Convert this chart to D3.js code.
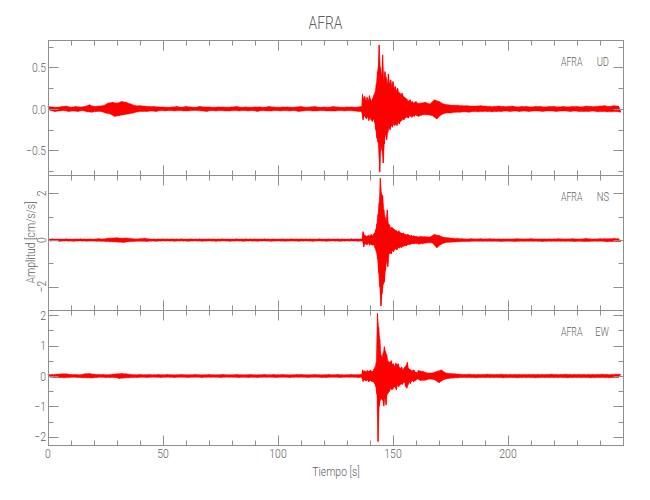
<!DOCTYPE html>
<html><head><meta charset="utf-8">
<script src="https://cdn.jsdelivr.net/npm/d3@7"></script>
<style>
body{margin:0;background:#fff;}
text{font-family:Roboto,"Liberation Sans",sans-serif;font-weight:300;fill:#5e5e5e;}
</style></head>
<body><svg id="c" width="650" height="500"></svg>
<script>
// ---- data ----
// coarse trace: one peak sample per second, t = 0..249 s
const tStep = 1;
// detailed main-event window: one peak sample per 0.25 s, t = 136..160.75 s
const eventStart = 136, eventStep = 0.25, eventEnd = 161;
const station = "AFRA";
const components = ["UD", "NS", "EW"];
const udValues = [
0.03,-0.02,0.025,-0.03,0.02,-0.025,0.03,-0.02,0.035,-0.03,
0.02,-0.025,0.03,-0.03,0.025,-0.02,0.03,-0.035,0.05,-0.04,
0.03,-0.03,0.035,-0.03,0.04,-0.05,0.07,-0.06,0.08,-0.09,
0.07,-0.08,0.09,-0.07,0.08,-0.06,0.06,-0.05,0.04,-0.035,
0.04,-0.03,0.035,-0.03,0.03,-0.025,0.03,-0.03,0.025,-0.02,
0.025,-0.025,0.02,-0.02,0.025,-0.025,0.03,-0.02,0.02,-0.025,
0.03,-0.025,0.025,-0.02,0.02,-0.02,0.03,-0.025,0.025,-0.03,
0.025,-0.02,0.02,-0.025,0.025,-0.02,0.025,-0.025,0.02,-0.025,
0.025,-0.02,0.03,-0.025,0.02,-0.02,0.025,-0.025,0.02,-0.02,
0.025,-0.03,0.025,-0.02,0.02,-0.025,0.03,-0.025,0.025,-0.02,
0.02,-0.025,0.025,-0.02,0.025,-0.025,0.02,-0.02,0.025,-0.03,
0.03,-0.025,0.02,-0.02,0.025,-0.025,0.03,-0.025,0.02,-0.02,
0.025,-0.025,0.02,-0.025,0.03,-0.025,0.025,-0.02,0.02,-0.025,
0.025,-0.02,0.025,-0.025,0.02,-0.03,0.03,0.18,-0.12,0.14,
-0.13,0.15,-0.3,0.4,0.77,-0.75,0.65,-0.65,0.42,-0.4,
0.28,-0.25,0.22,-0.2,0.18,-0.15,0.13,-0.12,0.1,-0.1,
0.08,-0.09,0.07,-0.07,0.08,-0.07,0.06,-0.08,0.11,-0.12,
0.09,-0.07,0.06,-0.05,0.05,-0.05,0.045,-0.04,0.045,-0.04,
0.04,-0.035,0.04,-0.04,0.035,-0.03,0.035,-0.035,0.04,-0.03,
0.035,-0.03,0.03,-0.035,0.03,-0.03,0.035,-0.03,0.03,-0.025,
0.03,-0.03,0.035,-0.025,0.025,-0.03,0.03,-0.025,0.03,-0.03,
0.025,-0.025,0.03,-0.025,0.03,-0.03,0.025,-0.025,0.03,-0.025,
0.03,-0.03,0.025,-0.025,0.03,-0.025,0.025,-0.03,0.03,-0.025,
0.03,-0.03,0.025,-0.03,0.035,-0.03,0.03,-0.025,0.03,-0.035,
0.035,-0.03,0.04,-0.035,0.03,-0.035,0.04,-0.03,0.035,-0.04];
const nsValues = [
0.04,-0.04,0.05,-0.03,0.04,-0.05,0.04,-0.04,0.05,-0.04,
0.04,-0.05,0.04,-0.04,0.05,-0.04,0.04,-0.05,0.05,-0.04,
0.04,-0.05,0.06,-0.05,0.05,-0.06,0.08,-0.07,0.09,-0.08,
0.1,-0.09,0.08,-0.1,0.09,-0.07,0.07,-0.06,0.05,-0.05,
0.06,-0.05,0.08,-0.06,0.05,-0.04,0.04,-0.05,0.04,-0.04,
0.05,-0.04,0.04,-0.04,0.05,-0.05,0.04,-0.04,0.05,-0.04,
0.04,-0.05,0.05,-0.04,0.04,-0.04,0.05,-0.05,0.04,-0.04,
0.05,-0.04,0.04,-0.05,0.04,-0.04,0.05,-0.04,0.04,-0.05,
0.04,-0.04,0.05,-0.04,0.04,-0.05,0.05,-0.04,0.04,-0.04,
0.05,-0.05,0.04,-0.04,0.05,-0.04,0.04,-0.05,0.04,-0.04,
0.04,-0.04,0.05,-0.05,0.04,-0.04,0.05,-0.04,0.04,-0.05,
0.05,-0.04,0.04,-0.04,0.05,-0.05,0.04,-0.04,0.05,-0.04,
0.04,-0.05,0.05,-0.04,0.04,-0.04,0.05,-0.05,0.04,-0.04,
0.04,-0.04,0.05,-0.04,0.04,-0.05,0.05,0.36,-0.3,0.28,
-0.25,0.3,-0.35,0.6,2.65,-2.83,1.9,-1.75,1.29,-1.14,
0.6,-0.55,0.45,-0.42,0.4,-0.38,0.3,-0.28,0.25,-0.25,
0.2,-0.18,0.15,-0.15,0.14,-0.12,0.13,-0.12,0.24,-0.33,
0.2,-0.18,0.12,-0.1,0.1,-0.09,0.08,-0.08,0.07,-0.07,
0.06,-0.06,0.05,-0.06,0.06,-0.05,0.05,-0.05,0.06,-0.05,
0.05,-0.05,0.06,-0.05,0.05,-0.05,0.05,-0.06,0.05,-0.05,
0.05,-0.05,0.05,-0.06,0.06,-0.05,0.05,-0.05,0.05,-0.05,
0.06,-0.05,0.05,-0.05,0.05,-0.06,0.05,-0.05,0.05,-0.05,
0.05,-0.05,0.06,-0.05,0.05,-0.05,0.05,-0.05,0.06,-0.06,
0.05,-0.05,0.05,-0.06,0.07,-0.06,0.05,-0.05,0.05,-0.05,
0.06,-0.05,0.06,-0.07,0.06,-0.06,0.07,-0.06,0.06,-0.07];
const ewValues = [
0.05,-0.04,0.05,-0.05,0.06,-0.05,0.07,-0.06,0.07,-0.05,
0.05,-0.04,0.05,-0.05,0.04,-0.06,0.07,-0.06,0.08,-0.07,
0.06,-0.05,0.05,-0.04,0.05,-0.05,0.04,-0.05,0.06,-0.05,
0.07,-0.08,0.08,-0.07,0.07,-0.06,0.05,-0.05,0.04,-0.05,
0.05,-0.04,0.04,-0.05,0.05,-0.04,0.04,-0.04,0.05,-0.05,
0.04,-0.04,0.05,-0.04,0.04,-0.05,0.04,-0.04,0.05,-0.04,
0.04,-0.05,0.04,-0.04,0.05,-0.04,0.04,-0.05,0.04,-0.04,
0.05,-0.04,0.04,-0.04,0.04,-0.05,0.05,-0.04,0.04,-0.04,
0.04,-0.04,0.05,-0.05,0.04,-0.04,0.04,-0.05,0.05,-0.04,
0.04,-0.05,0.04,-0.04,0.05,-0.04,0.04,-0.04,0.05,-0.05,
0.04,-0.04,0.05,-0.04,0.04,-0.05,0.04,-0.04,0.05,-0.04,
0.05,-0.04,0.04,-0.05,0.04,-0.04,0.05,-0.04,0.04,-0.05,
0.04,-0.05,0.05,-0.04,0.04,-0.04,0.05,-0.05,0.04,-0.04,
0.04,-0.04,0.05,-0.04,0.04,-0.05,0.05,0.18,-0.2,0.17,
-0.18,0.2,-0.22,2.06,-2.16,1.6,-1.05,0.95,-0.99,0.8,
-0.6,0.5,-0.45,0.42,-0.46,0.35,-0.45,0.45,-0.25,0.2,
-0.2,0.18,-0.15,0.15,-0.14,0.1,-0.1,0.1,-0.12,0.15,
-0.22,0.2,-0.12,0.1,-0.08,0.08,-0.07,0.07,-0.06,0.06,
-0.05,0.05,-0.05,0.06,-0.05,0.05,-0.06,0.05,-0.05,0.05,
-0.05,0.06,-0.05,0.05,-0.05,0.05,-0.05,0.06,-0.06,0.05,
-0.05,0.05,-0.05,0.05,-0.06,0.05,-0.05,0.05,-0.05,0.05,
-0.05,0.05,-0.06,0.05,-0.05,0.05,-0.05,0.05,-0.05,0.06,
-0.05,0.05,-0.05,0.05,-0.05,0.06,-0.06,0.05,-0.05,0.05,
-0.05,0.05,-0.05,0.05,-0.05,0.05,-0.06,0.05,-0.05,0.05,
-0.05,0.06,-0.05,0.05,-0.06,0.05,-0.05,0.06,-0.05,0.06];
const udEvent = [
0.03,-0.03,0.02,0.18,-0.13,0.12,-0.08,0.15,-0.1,0.09,
-0.12,0.14,-0.09,0.1,-0.14,0.16,-0.1,0.12,-0.13,0.09,
-0.15,0.13,-0.12,0.17,-0.16,0.2,-0.25,0.3,-0.35,0.45,
-0.4,0.55,0.77,-0.76,0.5,-0.45,0.4,-0.5,0.65,-0.65,
0.35,-0.42,0.45,-0.3,0.38,-0.37,0.3,-0.28,0.42,-0.22,
0.3,-0.25,0.35,-0.2,0.28,-0.22,0.33,-0.18,0.25,-0.2,
0.27,-0.18,0.22,-0.2,0.25,-0.16,0.2,-0.18,0.19,-0.15,
0.17,-0.14,0.19,-0.12,0.15,-0.13,0.14,-0.11,0.13,-0.1,
0.12,-0.1,0.09,-0.11,0.1,-0.08,0.11,-0.09,0.08,-0.1,
0.09,-0.08,0.07,-0.09,0.08,-0.07,0.09,-0.08,0.07,-0.08];
const nsEvent = [
0.05,-0.04,0.05,-0.05,0.36,-0.3,0.22,-0.15,0.2,-0.18,
0.15,-0.2,0.18,-0.12,0.2,-0.22,0.16,-0.18,0.24,-0.2,
0.18,-0.22,0.25,-0.2,0.3,-0.35,0.45,-0.5,0.7,-0.8,
1.1,-1.4,1.6,-2.0,2.65,-2.83,2.0,-2.3,1.9,-1.9,
1.3,-1.8,1.0,-1.3,0.8,-0.9,1.29,-1.14,0.7,-0.6,
0.65,-0.55,0.5,-0.6,0.55,-0.45,0.5,-0.5,0.45,-0.4,
0.42,-0.38,0.4,-0.42,0.35,-0.3,0.4,-0.35,0.32,-0.3,
0.3,-0.32,0.28,-0.25,0.3,-0.27,0.25,-0.22,0.24,-0.25,
0.22,-0.2,0.25,-0.18,0.2,-0.2,0.18,-0.17,0.2,-0.16,
0.17,-0.15,0.18,-0.16,0.15,-0.14,0.16,-0.15,0.14,-0.13];
const ewEvent = [
0.05,-0.04,0.05,0.2,-0.18,0.15,-0.12,0.17,-0.15,0.12,
-0.16,0.18,-0.13,0.15,-0.19,0.16,-0.14,0.2,-0.17,0.14,
-0.18,0.16,-0.2,0.22,-0.25,0.3,-0.35,0.45,-0.6,2.06,
-2.16,1.6,-1.0,1.2,-0.8,0.7,-0.75,0.6,-0.8,0.75,
-0.99,0.96,-0.7,0.8,-0.95,0.7,-0.6,0.5,-0.55,0.45,
-0.5,0.45,-0.4,0.5,-0.45,0.38,-0.42,0.4,-0.35,0.3,
-0.38,0.42,-0.46,0.35,-0.3,0.4,-0.35,0.28,-0.3,0.25,
-0.25,0.3,-0.28,0.2,-0.22,0.25,-0.2,0.3,-0.35,0.35,
-0.4,0.45,-0.3,0.25,-0.2,0.22,-0.25,0.2,-0.18,0.15,
-0.15,0.2,-0.2,0.18,-0.15,0.12,-0.14,0.12,-0.1,0.1];
const xTickLabels = [0, 50, 100, 150, 200];
const xMinorTicks = d3.range(10, 250, 10);
const udTicks = [-0.5, 0, 0.5];
const udMinor = [-0.75, -0.25, 0.25, 0.75];
const nsTicks = [-2, 0, 2];
const nsMinor = [-3, -1, 1];
const ewTicks = [-2, -1, 0, 1, 2];
const ewMinor = [-1.5, -0.5, 0.5, 1.5];
const udRange = [-0.795, 0.83];
const nsRange = [-3.0, 2.79];
const ewRange = [-2.27, 2.17];

// ---- drawing ----
const svg = d3.select("#c");
const L = 48, R = 623, T0 = 40, PH = 135;
const axisColor = "#8f8f8f";
const x = d3.scaleLinear().domain([0, 250]).range([L, R]);

function condense(sel, f) {
  sel.each(function () {
    const w = this.getComputedTextLength();
    d3.select(this).attr("textLength", w * f).attr("lengthAdjust", "spacingAndGlyphs");
  });
  return sel;
}

const panels = [
  {comp: components[0], values: udValues, event: udEvent, range: udRange, ticks: udTicks, minor: udMinor, fmt: d3.format(".1f"), rot: false},
  {comp: components[1], values: nsValues, event: nsEvent, range: nsRange, ticks: nsTicks, minor: nsMinor, fmt: d3.format("d"), rot: true},
  {comp: components[2], values: ewValues, event: ewEvent, range: ewRange, ticks: ewTicks, minor: ewMinor, fmt: d3.format("d"), rot: false}
];

panels.forEach((p, i) => {
  const top = T0 + i * PH, bot = top + PH;
  const y = d3.scaleLinear().domain(p.range).range([bot, top]);
  const g = svg.append("g");

  // samples: coarse outside the event window, detailed inside it
  const coarse = p.values.map((v, k) => ({t: k * tStep, v}))
    .filter(d => d.t < eventStart || d.t >= eventEnd);
  const fine = p.event.map((v, k) => ({t: eventStart + k * eventStep, v}));
  const samples = coarse.concat(fine).sort((a, b) => a.t - b.t);

  // filled band through positive peaks (upper) and negative peaks (lower)
  const upper = samples.filter(d => d.v >= 0);
  const lower = samples.filter(d => d.v < 0).reverse();
  const polyLine = d3.line().x(d => x(d.t)).y(d => y(d.v)).curve(d3.curveLinearClosed);
  g.append("path").attr("d", polyLine(upper.concat(lower)))
    .attr("fill", "#ff0000").attr("stroke", "#ff0000").attr("stroke-width", 0.4).attr("stroke-linejoin", "miter");
  const line = d3.line().x(d => x(d.t)).y(d => y(d.v));
  g.append("path").attr("d", line(samples))
    .attr("fill", "none").attr("stroke", "#ff0000").attr("stroke-width", 0.8);

  // frame
  g.append("rect").attr("x", L + 0.5).attr("y", top + 0.5).attr("width", R - L).attr("height", PH)
    .attr("fill", "none").attr("stroke", axisColor).attr("stroke-width", 1);

  const tk = g.append("g").attr("stroke", axisColor).attr("stroke-width", 1);
  const xt = [...xTickLabels.map(v => ({v, len: 10})), ...xMinorTicks.filter(v => v % 50).map(v => ({v, len: 5}))];
  xt.forEach(d => {
    const xx = Math.round(x(d.v)) + 0.5;
    tk.append("line").attr("x1", xx).attr("x2", xx).attr("y1", bot + 0.5).attr("y2", bot + 0.5 - d.len);
    tk.append("line").attr("x1", xx).attr("x2", xx).attr("y1", top + 0.5).attr("y2", top + 0.5 + d.len);
  });
  const yt = [...p.ticks.map(v => ({v, len: 10})), ...p.minor.map(v => ({v, len: 5}))];
  yt.forEach(d => {
    const yy = Math.round(y(d.v)) + 0.5;
    if (yy < top || yy > bot + 1) return;
    tk.append("line").attr("x1", L + 0.5).attr("x2", L + 0.5 + d.len).attr("y1", yy).attr("y2", yy);
    tk.append("line").attr("x1", R + 0.5).attr("x2", R + 0.5 - d.len).attr("y1", yy).attr("y2", yy);
  });
  p.ticks.forEach(v => {
    const lab = p.fmt(v);
    let t;
    if (p.rot) {
      t = g.append("text").attr("transform", `translate(${L - 2},${y(v)}) rotate(-90)`)
        .attr("text-anchor", "middle").attr("font-size", 13).text(lab);
    } else {
      t = g.append("text").attr("x", L - 2).attr("y", y(v)).attr("dy", "0.36em")
        .attr("text-anchor", "end").attr("font-size", 13).text(lab);
    }
    condense(t, 0.8);
  });
  condense(g.append("text").attr("x", 561).attr("y", top + 26).attr("font-size", 13).text(station), 0.67);
  condense(g.append("text").attr("x", 609).attr("y", top + 26).attr("text-anchor", "end").attr("font-size", 13).text(p.comp), 0.72);

  if (i === 2) {
    xTickLabels.forEach(v => {
      condense(g.append("text").attr("x", x(v)).attr("y", bot + 13).attr("text-anchor", "middle")
        .attr("font-size", 13).text(d3.format("d")(v)), 0.8);
    });
  }
});

condense(svg.append("text").attr("x", 325.5).attr("y", 29).attr("text-anchor", "middle").attr("font-size", 19).text(station), 0.73);
condense(svg.append("text").attr("x", 336).attr("y", 476).attr("text-anchor", "middle").attr("font-size", 13).text("Tiempo  [s]"), 0.8);
condense(svg.append("text").attr("transform", `translate(35,${T0 + 1.5 * PH}) rotate(-90)`).attr("text-anchor", "middle")
  .attr("font-size", 13).text("Amplitud  [cm/s/s]"), 0.8);
</script></body></html>
